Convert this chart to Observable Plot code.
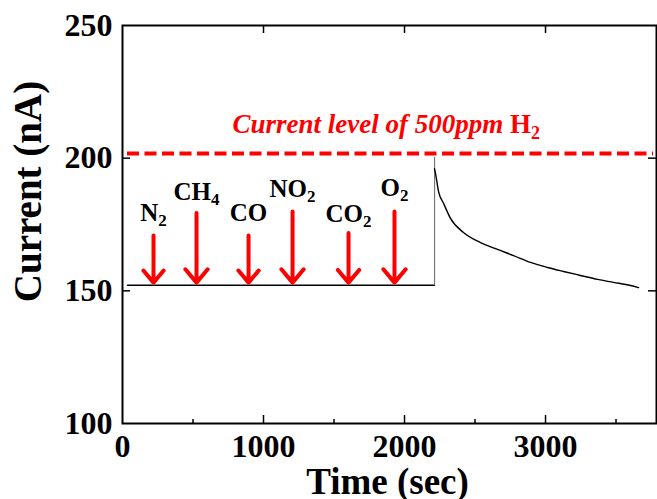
<!DOCTYPE html>
<html><head><meta charset="utf-8">
<script src="https://cdn.jsdelivr.net/npm/d3@7"></script>
<script src="https://cdn.jsdelivr.net/npm/@observablehq/plot@0.6"></script>
<style>
html,body{margin:0;padding:0;background:#fff;}
#chart svg{display:block;overflow:visible;}
</style>
</head><body><div id="chart"></div>
<script>
// ---- data ----
const xTickValues = [0, 1000, 2000, 3000];
const yTickValues = [100, 150, 200, 250];
const xMajorInner = [1000, 2000, 3000];
const xMinorInner = [500, 1500, 2500, 3500];
const yMajorInner = [150, 200];

const baselineTime = [35, 2213];
const baselineCurrent = [152.1, 152.1];
const jumpTime = [2213];
const jumpFrom = [152.1];
const jumpTo = [200.3];
const decayTime = [2213, 2220, 2241, 2277, 2326, 2418, 2539, 2660, 2773, 2894, 3014, 3128, 3248, 3369, 3482, 3603, 3660];
const decayCurrent = [196.0, 194.2, 187.5, 183.0, 177.3, 172.0, 168.2, 165.6, 163.3, 160.7, 158.8, 157.3, 155.8, 154.3, 153.2, 152.0, 151.2];

const gasNames = ["N2", "CH4", "CO", "NO2", "CO2", "O2"];
const gasTime = [220, 525, 894, 1206, 1603, 1929];
const arrowTop = [170.9, 179.3, 170.9, 179.9, 171.8, 179.9];
const arrowTip = [153.1, 153.1, 153.1, 153.1, 153.1, 153.1];
const labelCurrent = [176.5, 184.4, 176.5, 185.2, 175.8, 185.6];

const h2Level = 201.8;
const h2Label = "Current level of 500ppm H2";
const h2LabelTime = 1870;
const h2LabelCurrent = 209.3;

const xLabel = "Time (sec)";
const yLabel = "Current (nA)";

// ---- tables ----
const baseline = baselineTime.map((t, i) => ({t, v: baselineCurrent[i]}));
const decay = decayTime.map((t, i) => ({t, v: decayCurrent[i]}));
const jump = jumpTime.map((t, i) => ({t, v1: jumpFrom[i], v2: jumpTo[i]}));
const gases = gasNames.map((name, i) => ({name, t: gasTime[i], top: arrowTop[i], tip: arrowTip[i], ly: labelCurrent[i]}));

const serif = "'Liberation Serif', 'Times New Roman', serif";
const frameH = 398, frameW = 534;

const chart = Plot.plot({
  width: 657, height: 499,
  marginLeft: 122, marginRight: 1, marginTop: 25, marginBottom: 76,
  style: {fontFamily: serif, background: "#fff"},
  x: {domain: [0, 3787]},
  y: {domain: [100, 250]},
  marks: [
    Plot.frame({stroke: "#000", strokeWidth: 2}),
    // inner ticks
    Plot.tickX(xMajorInner, {x: d => d, insetTop: frameH - 8, stroke: "#000", strokeWidth: 1.5}),
    Plot.tickX(xMinorInner, {x: d => d, insetTop: frameH - 4, stroke: "#000", strokeWidth: 1.5}),
    Plot.tickX(xMajorInner, {x: d => d, insetBottom: frameH - 8, stroke: "#000", strokeWidth: 1.5}),
    Plot.tickY(yMajorInner, {y: d => d, insetRight: frameW - 8, stroke: "#000", strokeWidth: 1.5}),
    Plot.tickY(yMajorInner, {y: d => d, insetLeft: frameW - 8, stroke: "#000", strokeWidth: 1.5}),
    // tick labels
    Plot.axisX(xTickValues, {tickSize: 0, tickPadding: 11, tickFormat: d => String(d), fontSize: 32, fontWeight: "bold", fontFamily: serif, fill: "#000", label: null}),
    Plot.axisY(yTickValues, {tickSize: 0, tickPadding: 10, tickFormat: d => String(d), fontSize: 32, fontWeight: "bold", fontFamily: serif, fill: "#000", label: null}),
    // axis titles
    Plot.text([xLabel], {frameAnchor: "bottom", textAnchor: "middle", lineAnchor: "bottom", dy: 70, dx: -2, fontSize: 37, fontWeight: "bold", fontFamily: serif, fill: "#000"}),
    Plot.text([yLabel], {frameAnchor: "left", textAnchor: "middle", lineAnchor: "middle", rotate: -90, dx: -94, dy: -33, fontSize: 39, fontWeight: "bold", fontFamily: serif, fill: "#000"}),
    // H2 reference level
    Plot.ruleY([h2Level], {y: d => d, stroke: "#ff0000", strokeWidth: 4, strokeDasharray: "12,5.5", insetLeft: 5, insetRight: 3}),
    Plot.text([h2Label], {x: () => h2LabelTime, y: () => h2LabelCurrent, lineAnchor: "bottom", fontSize: 27, fontWeight: "bold", fontStyle: "italic", fontFamily: serif, fill: "#ff0000"}),
    // data
    Plot.line(baseline, {x: "t", y: "v", stroke: "#000", strokeWidth: 1.3}),
    Plot.ruleX(jump, {x: "t", y1: "v1", y2: "v2", stroke: "#777", strokeWidth: 1.2}),
    Plot.line(decay, {x: "t", y: "v", stroke: "#000", strokeWidth: 1.4, curve: "monotone-x"}),
    // gas arrows and labels
    Plot.arrow(gases, {x: "t", y1: "top", y2: "tip", stroke: "#ff0000", strokeWidth: 4, headLength: 6.5, headAngle: 80}),
    Plot.text(gases, {x: "t", y: "ly", text: "name", lineAnchor: "bottom", fontSize: 25, fontWeight: "bold", fontFamily: serif, fill: "#000"})
  ]
});

document.getElementById("chart").appendChild(chart);

// ---- subscripts (real text, tspans) ----
const SVGNS = "http://www.w3.org/2000/svg";
function tspan(txt, attrs) {
  const s = document.createElementNS(SVGNS, "tspan");
  s.textContent = txt;
  for (const k in attrs) s.setAttribute(k, attrs[k]);
  return s;
}
chart.querySelectorAll("text").forEach(el => {
  const content = el.textContent;
  if (gasNames.includes(content)) {
    const parts = content.split(/(\d+)/).filter(p => p.length);
    el.textContent = "";
    parts.forEach(p => {
      if (/^\d+$/.test(p)) el.appendChild(tspan(p, {"font-size": 17, dy: 5}));
      else el.appendChild(tspan(p, {}));
    });
  } else if (content === h2Label) {
    const m = content.match(/^(.*\s)([A-Za-z]+)(\d+)$/);
    if (!m) return;
    el.textContent = "";
    el.style.whiteSpace = "pre";
    el.appendChild(tspan(m[1], {}));
    el.appendChild(tspan(m[2], {"font-style": "normal"}));
    el.appendChild(tspan(m[3], {"font-style": "normal", "font-size": 18, dy: 6}));
  }
});
</script>
</body></html>
